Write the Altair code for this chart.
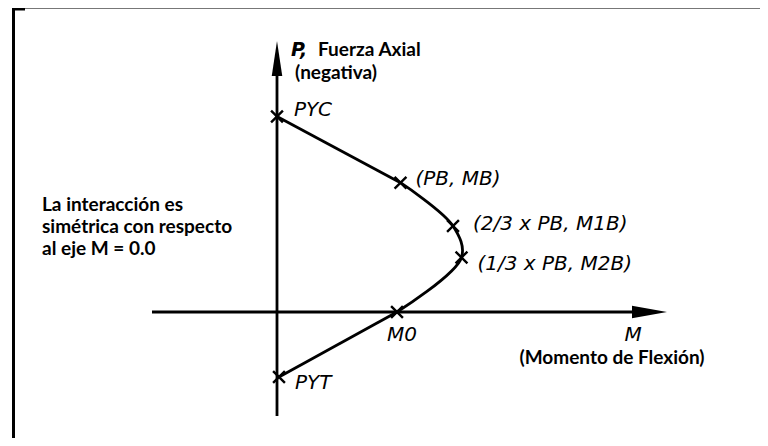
import altair as alt
import pandas as pd

# Interaction-diagram points (M = bending moment, P = axial force)
point_labels = ["PYC", "(PB, MB)", "(2/3 x PB, M1B)", "(1/3 x PB, M2B)", "M0", "PYT"]
m_values = [0, 123.5, 176, 184.5, 120, 2]
p_values = [195.5, 129.3, 86, 54.5, 0, -65]

# axes extents (same units)
m_axis = [-125, 390]
p_axis = [-104, 271]
arrow_len = 35

note_lines = ["La interacción es", "simétrica con respecto", "al eje M = 0.0"]
p_title = ["P,", "Fuerza Axial", "(negativa)"]
m_title = ["M", "(Momento de Flexión)"]

pts = pd.DataFrame({"M": m_values, "P": p_values, "label": point_labels,
                    "idx": list(range(len(m_values)))})

W, H = 752, 430
xs = alt.Scale(domain=[-269, 483], nice=False, zero=False)
ys = alt.Scale(domain=[-126, 304], nice=False, zero=False)
X = lambda f="M": alt.X(f"{f}:Q", scale=xs, axis=None)
Y = lambda f="P": alt.Y(f"{f}:Q", scale=ys, axis=None)

base = alt.Chart(pts)

seg1 = base.transform_filter("datum.idx <= 1").mark_line(
    color="black", strokeWidth=2.8).encode(x=X(), y=Y(), order="idx:Q")
seg2 = base.transform_filter("datum.idx >= 1 && datum.idx <= 4").mark_line(
    color="black", strokeWidth=2.8, interpolate="catmull-rom").encode(x=X(), y=Y(), order="idx:Q")
seg3 = base.transform_filter("datum.idx >= 4").mark_line(
    color="black", strokeWidth=2.8).encode(x=X(), y=Y(), order="idx:Q")

crosses = base.mark_point(shape="M-1,-1L1,1M-1,1L1,-1", size=140, strokeWidth=2.4,
                          color="black", opacity=1, filled=False).encode(x=X(), y=Y())

ITAL = dict(font="DejaVu Sans", fontStyle="italic", fontSize=20, color="black",
            align="left", baseline="alphabetic")
offsets = {"PYC": (17, -1), "(PB, MB)": (15, 2), "(2/3 x PB, M1B)": (20, 4),
           "(1/3 x PB, M2B)": (16, 12), "M0": (-10, 29), "PYT": (16, 12)}
labels = []
for lab, (dx, dy) in offsets.items():
    labels.append(base.transform_filter(alt.datum.label == lab).mark_text(
        dx=dx, dy=dy, **ITAL).encode(x=X(), y=Y(), text="label:N"))

# axes
axes_df = pd.DataFrame({"m1": [m_axis[0], 0], "m2": [m_axis[1] - arrow_len, 0],
                        "p1": [0, p_axis[0]], "p2": [0, p_axis[1] - arrow_len]})
axis_rules = alt.Chart(axes_df).mark_rule(color="black", strokeWidth=2.8).encode(
    x=X("m1"), x2="m2:Q", y=Y("p1"), y2="p2:Q")
heads_df = pd.DataFrame({"M": [m_axis[1] - arrow_len / 2, 0],
                         "P": [0, p_axis[1] - arrow_len / 2], "dir": ["r", "u"]})
head_r = alt.Chart(heads_df).transform_filter("datum.dir == 'r'").mark_point(
    shape="M1,0L-1,-0.36L-1,0.36Z", size=arrow_len ** 2, filled=True, color="black",
    opacity=1).encode(x=X(), y=Y())
head_u = alt.Chart(heads_df).transform_filter("datum.dir == 'u'").mark_point(
    shape="M0,-1L-0.3,1L0.3,1Z", size=arrow_len ** 2, filled=True, color="black",
    opacity=1).encode(x=X(), y=Y())

BOLD = dict(font="Lato", fontWeight="bold", fontSize=19, color="black",
            align="left", baseline="alphabetic")
anchor = alt.Chart(pd.DataFrame({"M": [0], "P": [0]}))
p_lab0 = anchor.mark_text(dx=14, dy=-256, font="DejaVu Sans", fontStyle="italic",
                          fontWeight="bold", fontSize=19, color="black", align="left",
                          baseline="alphabetic").encode(x=X(), y=Y(), text=alt.value(p_title[0]))
p_lab1 = anchor.mark_text(dx=41, dy=-256, **BOLD).encode(x=X(), y=Y(), text=alt.value(p_title[1]))
p_lab2 = anchor.mark_text(dx=18, dy=-233, **BOLD).encode(x=X(), y=Y(), text=alt.value(p_title[2]))
m_lab0 = anchor.mark_text(dx=356, dy=29, **{**ITAL, "align": "center"}).encode(
    x=X(), y=Y(), text=alt.value(m_title[0]))
m_lab1 = anchor.mark_text(dx=335, dy=52, **{**BOLD, "align": "center"}).encode(
    x=X(), y=Y(), text=alt.value(m_title[1]))
note = anchor.mark_text(dx=-235, dy=-101, lineHeight=22, **BOLD).encode(
    x=X(), y=Y(), text=alt.value(note_lines))

# frame (decoration)
frame_top = anchor.mark_rule(color="#777777", strokeWidth=1).encode(
    x=alt.value(4), x2=alt.value(752), y=alt.value(0.5))
frame_tl = anchor.mark_rule(color="black", strokeWidth=3).encode(
    x=alt.value(4), x2=alt.value(17), y=alt.value(1))
frame_left = anchor.mark_rule(color="black", strokeWidth=3).encode(
    x=alt.value(5.5), y=alt.value(0), y2=alt.value(H))

chart = alt.layer(
    frame_top, frame_tl, frame_left, axis_rules, head_r, head_u,
    seg1, seg2, seg3, crosses, *labels,
    p_lab0, p_lab1, p_lab2, m_lab0, m_lab1, note,
).properties(
    width=W, height=H, autosize=alt.AutoSizeParams(type="none"), padding=0,
    background="white",
).configure_view(strokeWidth=0)

chart.save("out.html", embed_options={"renderer": "svg", "actions": False})
